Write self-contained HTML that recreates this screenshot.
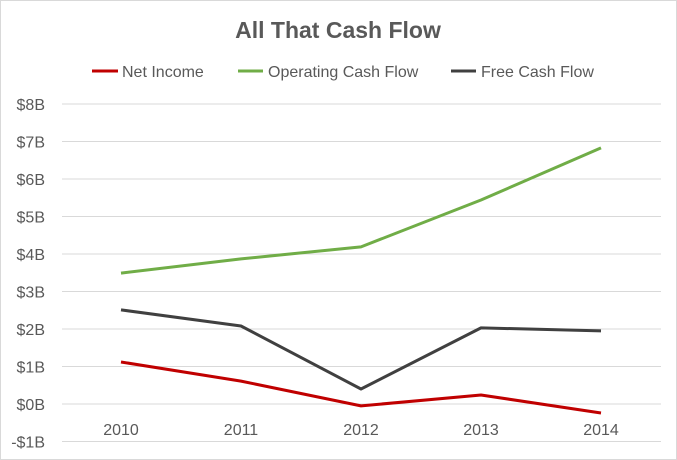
<!DOCTYPE html>
<html><head><meta charset="utf-8"><style>
body{margin:0;background:#fff;}
svg{display:block;font-family:"Liberation Sans",Calibri,sans-serif;}
</style></head><body>
<svg id="chart" width="677" height="460">
<rect x="0.5" y="0.5" width="676" height="459" fill="#fff" stroke="#d9d9d9"/>
<text x="338" y="38" text-anchor="middle" font-size="23" font-weight="bold" fill="#595959">All That Cash Flow</text>
<g id="legend">
<line x1="92" y1="71" x2="118" y2="71" stroke="#c00000" stroke-width="3"/>
<text x="122" y="77" font-size="16" fill="#595959">Net Income</text>
<line x1="238" y1="71" x2="263" y2="71" stroke="#70ad47" stroke-width="3"/>
<text x="268" y="77" font-size="16" fill="#595959">Operating Cash Flow</text>
<line x1="451" y1="71" x2="476" y2="71" stroke="#404040" stroke-width="3"/>
<text x="481" y="77" font-size="16" fill="#595959">Free Cash Flow</text>
</g>
<g id="grid"></g><g id="axes"></g><g id="series"></g>
</svg>
<script>
const categories=["2010","2011","2012","2013","2014"];
const netIncome=[1.12,0.61,-0.05,0.24,-0.24];
const operatingCashFlow=[3.49,3.87,4.19,5.44,6.83];
const freeCashFlow=[2.51,2.08,0.40,2.03,1.95];
const yTicks=[-1,0,1,2,3,4,5,6,7,8];
const yTickLabels=["-$1B","$0B","$1B","$2B","$3B","$4B","$5B","$6B","$7B","$8B"];
const NS="http://www.w3.org/2000/svg";
const yScale=v=>404-v*37.5;
const xScale=i=>121+i*120;
const grid=document.getElementById('grid'),axes=document.getElementById('axes'),series=document.getElementById('series');
yTicks.forEach((t,i)=>{
 const l=document.createElementNS(NS,'line');
 l.setAttribute('x1',62);l.setAttribute('x2',661);
 l.setAttribute('y1',yScale(t));l.setAttribute('y2',yScale(t));
 l.setAttribute('stroke','#d9d9d9');l.setAttribute('stroke-width',1);
 
 
 grid.appendChild(l);
 const tx=document.createElementNS(NS,'text');
 tx.setAttribute('x',45);tx.setAttribute('y',yScale(t)+6);
 tx.setAttribute('text-anchor','end');tx.setAttribute('font-size','16');tx.setAttribute('fill','#595959');
 tx.textContent=yTickLabels[i];
 
 
 axes.appendChild(tx);
});
categories.forEach((c,i)=>{
 const tx=document.createElementNS(NS,'text');
 tx.setAttribute('x',xScale(i));tx.setAttribute('y',435);
 tx.setAttribute('text-anchor','middle');tx.setAttribute('font-size','16');tx.setAttribute('fill','#595959');
 tx.textContent=c;
 
 
 axes.appendChild(tx);
});
function drawLine(vals,color,name){
 const p=document.createElementNS(NS,'polyline');
 p.setAttribute('points',vals.map((v,i)=>xScale(i)+','+yScale(v)).join(' '));
 p.setAttribute('fill','none');p.setAttribute('stroke',color);p.setAttribute('stroke-width',3);
 p.setAttribute('stroke-linejoin','round');
 
 
 series.appendChild(p);
}
drawLine(operatingCashFlow,'#70ad47','operating-cash-flow-line');
drawLine(freeCashFlow,'#404040','free-cash-flow-line');
drawLine(netIncome,'#c00000','net-income-line');
</script>
</body></html>
